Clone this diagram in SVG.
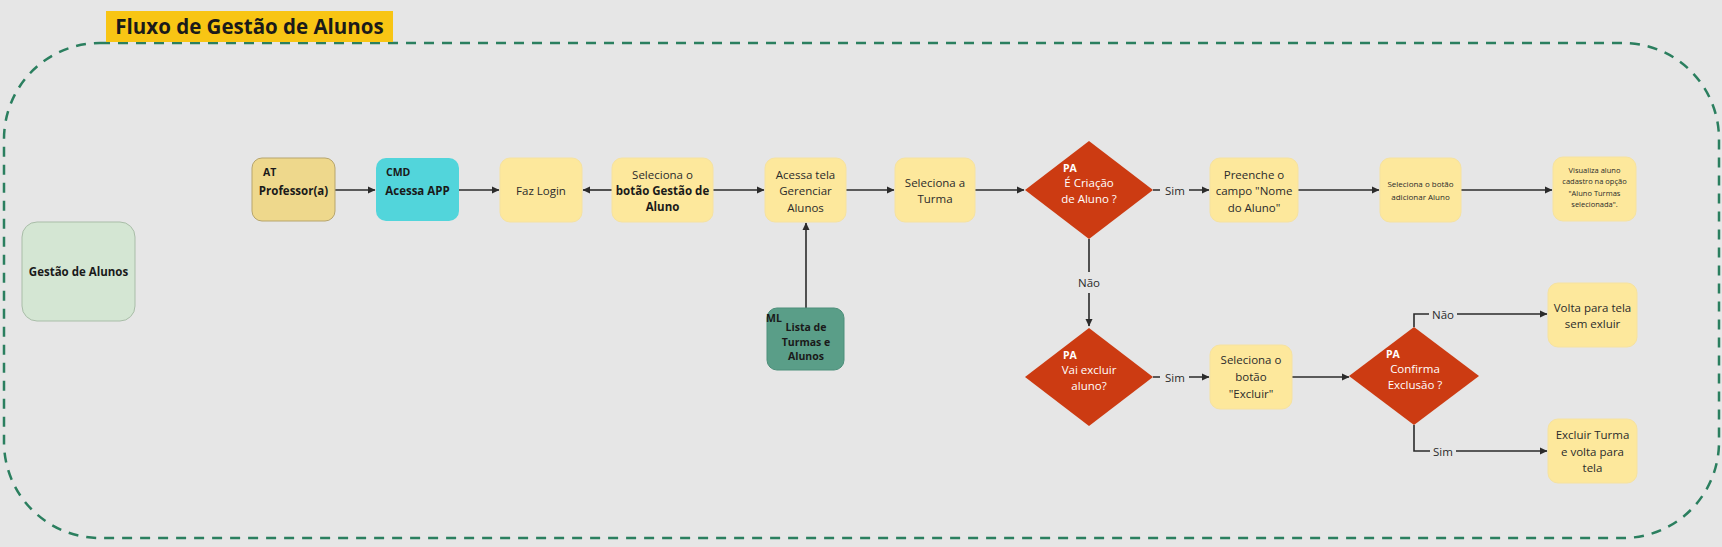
<svg xmlns="http://www.w3.org/2000/svg" width="1722" height="547" viewBox="0 0 1722 547">
<style>
text{font-family:"Open Sans","Noto Sans","Liberation Sans",sans-serif;fill:#2b2b2b;font-size:11.5px}
.c{text-anchor:middle}
.b{font-weight:bold;fill:#1a1a1a}
.tag{font-weight:bold;font-size:10.5px;fill:#1a1a1a}
.w{fill:#ffffff}
.wt{fill:#ffffff;font-weight:bold;font-size:10.5px}
.y{fill:#fde89c;stroke:#f6e2a0;stroke-width:1}
.d{fill:#cc3b12}
.ln{fill:none;stroke:#2b2b2b;stroke-width:1.6}
.lbl{font-size:11.5px;fill:#2b2b2b;text-anchor:middle}
</style>
<defs>
<marker id="ah" markerWidth="8" markerHeight="8" refX="7" refY="4" orient="auto" markerUnits="userSpaceOnUse">
<path d="M0,0.5 L7.5,4 L0,7.5 Z" fill="#2b2b2b"/>
</marker>
</defs>
<rect x="0" y="0" width="1722" height="547" fill="#e6e6e6"/>
<rect x="4" y="43" width="1715" height="495" rx="96" ry="96" fill="none" stroke="#2b7f5f" stroke-width="2.5" stroke-dasharray="10 8"/>
<g id="title">
<rect x="106" y="11" width="287" height="31" fill="#f8c514"/>
<text x="249.5" y="34" class="c" style="font-size:20.5px;font-weight:bold;fill:#1a1a1a">Fluxo de Gestão de Alunos</text>
</g>
<g id="connectors">
<path class="ln" d="M335 190 H375" marker-end="url(#ah)"/>
<path class="ln" d="M459 190 H499" marker-end="url(#ah)"/>
<path class="ln" d="M612 190 H583" marker-end="url(#ah)"/>
<path class="ln" d="M713 190 H764" marker-end="url(#ah)"/>
<path class="ln" d="M846 190 H894" marker-end="url(#ah)"/>
<path class="ln" d="M975 190 H1024" marker-end="url(#ah)"/>
<path class="ln" d="M1153 190 H1160 M1189 190 H1209" marker-end="url(#ah)"/>
<text class="lbl" x="1175" y="194.5">Sim</text>
<path class="ln" d="M1298 190 H1379" marker-end="url(#ah)"/>
<path class="ln" d="M1461 190 H1552" marker-end="url(#ah)"/>
<path class="ln" d="M806 308 V223" marker-end="url(#ah)"/>
<path class="ln" d="M1089 239 V272 M1089 293 V326" marker-end="url(#ah)"/>
<text class="lbl" x="1089" y="287">Não</text>
<path class="ln" d="M1153 377 H1160 M1189 377 H1209" marker-end="url(#ah)"/>
<text class="lbl" x="1175" y="381.5">Sim</text>
<path class="ln" d="M1292 377 H1349" marker-end="url(#ah)"/>
<path class="ln" d="M1414 327 V314 H1429 M1457 314 H1547" marker-end="url(#ah)"/>
<text class="lbl" x="1443" y="318.5">Não</text>
<path class="ln" d="M1414 425 V451 H1430 M1456 451 H1547" marker-end="url(#ah)"/>
<text class="lbl" x="1443" y="455.5">Sim</text>
</g>
<g id="gestao">
<rect x="22" y="222" width="113" height="99" rx="15" fill="#d4e6d3" stroke="#a9bda8" stroke-width="1"/>
<text x="78.5" y="276" class="c b">Gestão de Alunos</text>
</g>
<g id="professor">
<rect x="252" y="158" width="83" height="63" rx="10" fill="#eed88c" stroke="#b7a56c" stroke-width="1"/>
<text x="263" y="176" class="tag">AT</text>
<text x="293.5" y="195" class="c b">Professor(a)</text>
</g>
<g id="acessa-app">
<rect x="376" y="158" width="83" height="63" rx="10" fill="#52d5db"/>
<text x="386" y="176" class="tag">CMD</text>
<text x="417.5" y="195" class="c b">Acessa APP</text>
</g>
<g id="faz-login">
<rect x="500" y="158" width="82" height="64" rx="10" class="y"/>
<text x="541" y="195" class="c">Faz Login</text>
</g>
<g id="seleciona-gestao">
<rect x="612" y="158" width="101" height="64" rx="10" class="y"/>
<text x="662.5" y="179" class="c">Seleciona o</text>
<text x="662.5" y="195" class="c b">botão Gestão de</text>
<text x="662.5" y="211" class="c b">Aluno</text>
</g>
<g id="gerenciar">
<rect x="765" y="158" width="81" height="64" rx="10" class="y"/>
<text x="805.5" y="178.5" class="c">Acessa tela</text>
<text x="805.5" y="195" class="c">Gerenciar</text>
<text x="805.5" y="211.5" class="c">Alunos</text>
</g>
<g id="turma">
<rect x="895" y="158" width="80" height="64" rx="10" class="y"/>
<text x="935" y="186.5" class="c">Seleciona a</text>
<text x="935" y="202.5" class="c">Turma</text>
</g>
<g id="criacao">
<polygon points="1089,141 1153,190 1089,239 1025,190" class="d"/>
<text x="1063" y="172" class="wt">PA</text>
<text x="1089" y="187" class="c w">É Criação</text>
<text x="1089" y="202.5" class="c w">de Aluno ?</text>
</g>
<g id="preenche">
<rect x="1210" y="158" width="88" height="64" rx="10" class="y"/>
<text x="1254" y="178.5" class="c">Preenche o</text>
<text x="1254" y="195" class="c">campo "Nome</text>
<text x="1254" y="211.5" class="c">do Aluno"</text>
</g>
<g id="adicionar">
<rect x="1380" y="158" width="81" height="64" rx="10" class="y"/>
<text x="1420.5" y="187" class="c" style="font-size:8px">Seleciona o botão</text>
<text x="1420.5" y="199.5" class="c" style="font-size:8px">adicionar Aluno</text>
</g>
<g id="visualiza">
<rect x="1553" y="157" width="83" height="64" rx="10" class="y"/>
<text x="1594.5" y="172.5" class="c" style="font-size:7.5px">Visualiza aluno</text>
<text x="1594.5" y="184" class="c" style="font-size:7.5px">cadastro na opção</text>
<text x="1594.5" y="195.5" class="c" style="font-size:7.5px">"Aluno Turmas</text>
<text x="1594.5" y="207" class="c" style="font-size:7.5px">selecionada".</text>
</g>
<g id="lista">
<rect x="767" y="308" width="77" height="62" rx="10" fill="#5a9e88" stroke="#4d8f7a" stroke-width="1"/>
<text x="766" y="322" class="tag">ML</text>
<text x="806" y="331" class="c b" style="font-size:10.5px">Lista de</text>
<text x="806" y="345.5" class="c b" style="font-size:10.5px">Turmas e</text>
<text x="806" y="360" class="c b" style="font-size:10.5px">Alunos</text>
</g>
<g id="excluir-q">
<polygon points="1089,328 1153,377 1089,426 1025,377" class="d"/>
<text x="1063" y="359" class="wt">PA</text>
<text x="1089" y="374" class="c w">Vai excluir</text>
<text x="1089" y="389.5" class="c w">aluno?</text>
</g>
<g id="botao-excluir">
<rect x="1210" y="345" width="82" height="64" rx="10" class="y"/>
<text x="1251" y="364" class="c">Seleciona o</text>
<text x="1251" y="381" class="c">botão</text>
<text x="1251" y="398" class="c">"Excluir"</text>
</g>
<g id="confirma">
<polygon points="1414,327 1479,376 1414,425 1349,376" class="d"/>
<text x="1386" y="358" class="wt">PA</text>
<text x="1415" y="373" class="c w">Confirma</text>
<text x="1415" y="388.5" class="c w">Exclusão ?</text>
</g>
<g id="volta">
<rect x="1548" y="283" width="89" height="64" rx="10" class="y"/>
<text x="1592.5" y="311.5" class="c">Volta para tela</text>
<text x="1592.5" y="327.5" class="c">sem exluir</text>
</g>
<g id="excluir-turma">
<rect x="1548" y="419" width="89" height="64" rx="10" class="y"/>
<text x="1592.5" y="439" class="c">Excluir Turma</text>
<text x="1592.5" y="455.5" class="c">e volta para</text>
<text x="1592.5" y="472" class="c">tela</text>
</g>
</svg>
